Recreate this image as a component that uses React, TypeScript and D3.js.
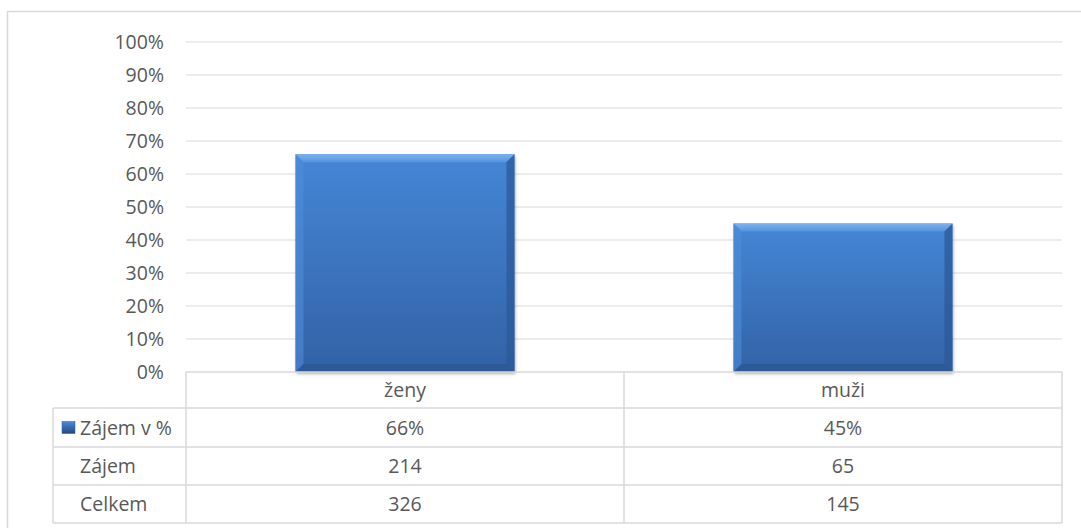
import React from "react";
import * as d3 from "d3";

const categories = ["ženy", "muži"];
const interestPct = [0.66, 0.45];
const interestCount = [214, 65];
const totalCount = [326, 145];
const yTicks = [0, 0.1, 0.2, 0.3, 0.4, 0.5, 0.6, 0.7, 0.8, 0.9, 1.0];
const rowLabels = ["Zájem v %", "Zájem", "Celkem"];

export default function App() {
  const W = 1081, H = 528;
  const left = 186, right = 1062, top = 42, bottom = 372;
  const x = d3.scaleBand<string>().domain(categories).range([left, right]).paddingInner(0.5).paddingOuter(0.25);
  const xCol = d3.scaleBand<string>().domain(categories).range([left, right]);
  const y = d3.scaleLinear().domain([0, 1]).range([bottom, top]);
  const fmt = d3.format(".0%");
  const rows = [408, 447, 485, 523];
  const legendLeft = 53;
  const font = "'Open Sans', sans-serif";
  const fs = 19.5;
  const txt = "#595959";
  const grid = "#d9d9d9";
  const rowData = [interestPct.map((v) => fmt(v)), interestCount.map(String), totalCount.map(String)];

  return (
    <svg width={W} height={H} style={{ position: "absolute", left: 0, top: 0 }}>
      <defs>
        <linearGradient id="barG" x1="0" y1="0" x2="0" y2="1">
          <stop offset="0" stopColor="#4586d6" />
          <stop offset="1" stopColor="#3262a6" />
        </linearGradient>
        <linearGradient id="topBevel" x1="0" y1="0" x2="0" y2="1">
          <stop offset="0" stopColor="#7eb2ec" />
          <stop offset="1" stopColor="#5294e0" />
        </linearGradient>
        <linearGradient id="keyG" x1="0" y1="0" x2="0" y2="1">
          <stop offset="0" stopColor="#4a8ad8" />
          <stop offset="1" stopColor="#23497f" />
        </linearGradient>
        <filter id="shadow" x="-10%" y="-10%" width="120%" height="120%">
          <feDropShadow dx="1" dy="2" stdDeviation="1.5" floodColor="#000" floodOpacity="0.3" />
        </filter>
      </defs>
      <rect x={7.5} y={11.5} width={1090} height={530} fill="#fff" stroke={grid} strokeWidth={1.5} />
      {yTicks.map((t) => (
        <g key={t}>
          {t > 0 && <line x1={left} x2={right} y1={y(t)} y2={y(t)} stroke={grid} strokeWidth={1.2} />}
          <text x={164} y={y(t)} dy="0.36em" textAnchor="end" fontFamily={font} fontSize={fs} fill={txt}>
            {fmt(t)}
          </text>
        </g>
      ))}
      {categories.map((c, i) => {
        const bx = x(c)!, bw = x.bandwidth();
        const by = y(interestPct[i]);
        const bh = bottom - by;
        const b = 8;
        return (
          <g key={c}>
            <rect x={bx} y={by} width={bw} height={bh} fill="url(#barG)" filter="url(#shadow)" />
            <polygon points={`${bx},${by} ${bx + bw},${by} ${bx + bw - b},${by + b} ${bx + b},${by + b}`} fill="url(#topBevel)" />
            <polygon points={`${bx + bw},${by} ${bx + bw},${by + bh} ${bx + bw - b},${by + bh - b} ${bx + bw - b},${by + b}`} fill="#2c5a98" opacity={0.75} />
            <polygon points={`${bx},${by} ${bx + b},${by + b} ${bx + b},${by + bh - b} ${bx},${by + bh}`} fill="#4f8ed8" opacity={0.6} />
            <polygon points={`${bx},${by + bh} ${bx + b},${by + bh - b} ${bx + bw - b},${by + bh - b} ${bx + bw},${by + bh}`} fill="#2b5590" opacity={0.7} />
          </g>
        );
      })}
      <g stroke={grid} strokeWidth={1.5} fill="none">
        <line x1={left} x2={right} y1={bottom} y2={bottom} />
        {rows.map((ry) => (
          <line key={ry} x1={legendLeft} x2={right} y1={ry} y2={ry} />
        ))}
        <line x1={legendLeft} x2={legendLeft} y1={rows[0]} y2={rows[3]} />
        <line x1={left} x2={left} y1={bottom} y2={rows[3]} />
        <line x1={xCol(categories[1])!} x2={xCol(categories[1])!} y1={bottom} y2={rows[3]} />
        <line x1={right} x2={right} y1={bottom} y2={rows[3]} />
      </g>
      {categories.map((c) => (
        <text key={c} x={xCol(c)! + xCol.bandwidth() / 2} y={(bottom + rows[0]) / 2} dy="0.36em" textAnchor="middle" fontFamily={font} fontSize={fs} fill={txt}>
          {c}
        </text>
      ))}
      {rowLabels.map((lab, r) => {
        const cy = (rows[r] + rows[r + 1]) / 2;
        return (
          <g key={lab}>
            {r === 0 && <rect x={62} y={cy - 6} width={13} height={12} fill="url(#keyG)" stroke="#2c5a98" strokeWidth={0.5} />}
            <text x={80} y={cy} dy="0.36em" fontFamily={font} fontSize={fs} fill={txt}>
              {lab}
            </text>
            {categories.map((c, i) => (
              <text key={c} x={xCol(c)! + xCol.bandwidth() / 2} y={cy} dy="0.36em" textAnchor="middle" fontFamily={font} fontSize={fs} fill={txt}>
                {rowData[r][i]}
              </text>
            ))}
          </g>
        );
      })}
    </svg>
  );
}
